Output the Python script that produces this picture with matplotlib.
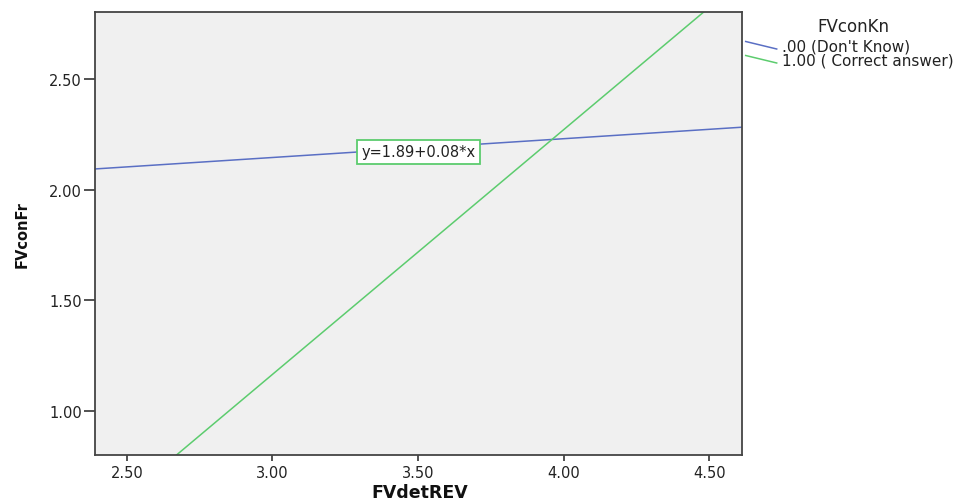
import numpy as np
import matplotlib
matplotlib.use("Agg")
import matplotlib.pyplot as plt
from matplotlib.lines import Line2D

plt.rcParams['font.family'] = ['DejaVu Sans']

# Data: fitted lines per group (intercept, slope)
groups = [".00 (Don't Know)", "1.00 ( Correct answer)"]
intercepts = [1.89, -2.157]
slopes = [0.085, 1.107]
colors = ["#5a6fc4", "#5ccc6e"]
fit_label = "y=1.89+0.08*x"
xticks = [2.50, 3.00, 3.50, 4.00, 4.50]
yticks = [1.00, 1.50, 2.00, 2.50]
xlim = (2.391, 4.611)
ylim = (0.801, 2.803)

W, H = 960, 502
fig = plt.figure(figsize=(9.6, 5.02), dpi=100)
ax = fig.add_axes([95/W, 1-455.7/H, (741.7-95)/W, (455.7-13)/H])
ax.set_facecolor("#f0f0f0")

xs = np.linspace(xlim[0], xlim[1], 200)
for b0, b1, c in zip(intercepts, slopes, colors):
    ax.plot(xs, b0 + b1*xs, color=c, lw=1.1)

ax.set_xlim(*xlim)
ax.set_ylim(*ylim)
ax.set_xticks(xticks)
ax.set_xticklabels([f"{v:.2f}" for v in xticks])
ax.set_yticks(yticks)
ax.set_yticklabels([f"{v:.2f}" for v in yticks])
ax.tick_params(axis='x', direction='out', length=4.5, width=1.2, color='#333333',
               labelsize=10.5, labelcolor='#222222', pad=3)
ax.tick_params(axis='y', direction='out', length=8, width=1.2, color='#333333',
               labelsize=10.5, labelcolor='#222222', pad=1.5)
for s in ax.spines.values():
    s.set_color('#444444')
    s.set_linewidth(1.3)

fig.text(420/W, 1-493/H, "FVdetREV", fontsize=12.5, fontweight='bold',
         ha='center', va='center', color='#111111')
fig.text(22/W, 1-235/H, "FVconFr", fontsize=10.5, fontweight='bold', rotation=90,
         ha='center', va='center', color='#111111')

ax.text(3.501, 2.171, fit_label, fontsize=10.5, ha='center', va='center', color='#222222',
        bbox=dict(boxstyle='square,pad=0.3', fc='white', ec=colors[1], lw=1.3))

# legend (SPSS style, slanted lines)
fig.text(853/W, 1-27/H, "FVconKn", fontsize=12, ha='center', va='center', color='#222222')
leg_y = [47, 61]
for i, (lab, c) in enumerate(zip(groups, colors)):
    y0 = leg_y[i] - 4.5
    fig.add_artist(Line2D([745.7/W, 776.7/W], [1-y0/H, 1-(y0+7.5)/H],
                          color=c, lw=1.1, transform=fig.transFigure))
    fig.text(781.5/W, 1-leg_y[i]/H, lab, fontsize=11, ha='left', va='center', color='#222222')

fig.savefig("out.png", dpi=100)
